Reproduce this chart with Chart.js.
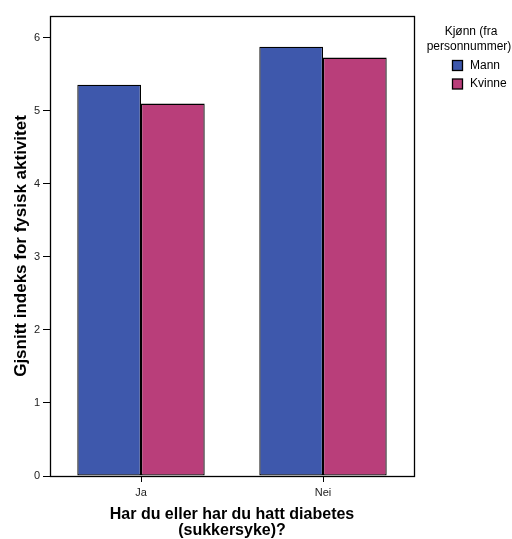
<!DOCTYPE html>
<html><head><meta charset="utf-8">
<script src="https://cdn.jsdelivr.net/npm/chart.js@4"></script>
<style>html,body{margin:0;padding:0;background:#fff}#wrap{width:512px;height:539px}</style>
</head><body><div id="wrap"><canvas id="c" width="512" height="539"></canvas></div>
<script>
const categories = ['Ja', 'Nei'];
const seriesNames = ['Mann', 'Kvinne'];
const mannValues = [5.36, 5.88];
const kvinneValues = [5.10, 5.73];
const yTicks = [0, 1, 2, 3, 4, 5, 6];
const legendTitle = ['Kjønn (fra', 'personnummer)'];
const yTitle = 'Gjsnitt indeks for fysisk aktivitet';
const xTitle = ['Har du eller har du hatt diabetes', '(sukkersyke)?'];
const seriesColors = ['#3e58ac', '#b93e7a'];

const FONT = '"Liberation Sans", Arial, sans-serif';
Chart.defaults.font.family = FONT;

const framePlugin = {
  id: 'frame',
  afterDraw(chart) {
    const a = chart.chartArea, ctx = chart.ctx;
    ctx.save();
    ctx.strokeStyle = '#000';
    ctx.lineWidth = 1.3;
    ctx.strokeRect(Math.round(a.left) + 0.5, Math.round(a.top) + 0.5, Math.round(a.right - a.left), Math.round(a.bottom - a.top));
    ctx.restore();
  }
};

const legendPlugin = {
  id: 'customLegend',
  afterDraw(chart) {
    const ctx = chart.ctx;
    ctx.save();
    ctx.font = '12px ' + FONT;
    ctx.fillStyle = '#000';
    ctx.textAlign = 'center';
    ctx.textBaseline = 'middle';
    ctx.fillText(legendTitle[0], 471, 32);
    ctx.fillText(legendTitle[1], 469, 47);
    chart.data.datasets.forEach((ds, i) => {
      const y = 65 + i * 18.5;
      ctx.fillStyle = ds.backgroundColor;
      ctx.fillRect(452.5, y - 4.5, 10, 10);
      ctx.strokeStyle = '#000';
      ctx.lineWidth = 1.3;
      ctx.strokeRect(452.5, y - 4.5, 10, 10);
      ctx.fillStyle = '#000';
      ctx.textAlign = 'left';
      ctx.fillText(ds.label, 470, y + 0.5);
    });
    ctx.restore();
  }
};

new Chart(document.getElementById('c'), {
  type: 'bar',
  data: {
    labels: categories,
    datasets: [
      { label: seriesNames[0], data: mannValues, backgroundColor: seriesColors[0], borderColor: '#000', borderWidth: 1.3, borderSkipped: false, categoryPercentage: 0.7, barPercentage: 1.0 },
      { label: seriesNames[1], data: kvinneValues, backgroundColor: seriesColors[1], borderColor: '#000', borderWidth: 1.3, borderSkipped: false, categoryPercentage: 0.7, barPercentage: 1.0 }
    ]
  },
  options: {
    responsive: false,
    animation: false,
    devicePixelRatio: 1,
    layout: { padding: { top: 16, right: 98, left: 0, bottom: 0 } },
    plugins: { legend: { display: false }, tooltip: { enabled: false } },
    scales: {
      x: {
        type: 'category',
        offset: true,
        border: { display: false },
        grid: { display: true, drawOnChartArea: false, drawTicks: true, tickLength: 6, color: '#000', offset: false, lineWidth: 1 },
        ticks: { color: '#222', font: { size: 11 }, padding: 4, maxRotation: 0 },
        title: { display: true, text: xTitle, color: '#000', font: { size: 16, weight: 'bold', lineHeight: 1.0 }, padding: { top: 6, bottom: 0 } },
        afterFit(s) { s.height = 63; }
      },
      y: {
        min: 0,
        max: 6.3,
        border: { display: false },
        afterBuildTicks(s) { s.ticks = yTicks.map(v => ({ value: v })); },
        grid: { display: true, drawOnChartArea: false, drawTicks: true, tickLength: 7, color: '#000', lineWidth: 1 },
        ticks: { color: '#222', font: { size: 11 }, padding: 3 },
        title: { display: true, text: yTitle, color: '#000', font: { size: 17, weight: 'bold' }, padding: { top: 11, bottom: 0 } },
        afterFit(s) { s.width = 50; }
      }
    }
  },
  plugins: [framePlugin, legendPlugin]
});
</script>
</body></html>
